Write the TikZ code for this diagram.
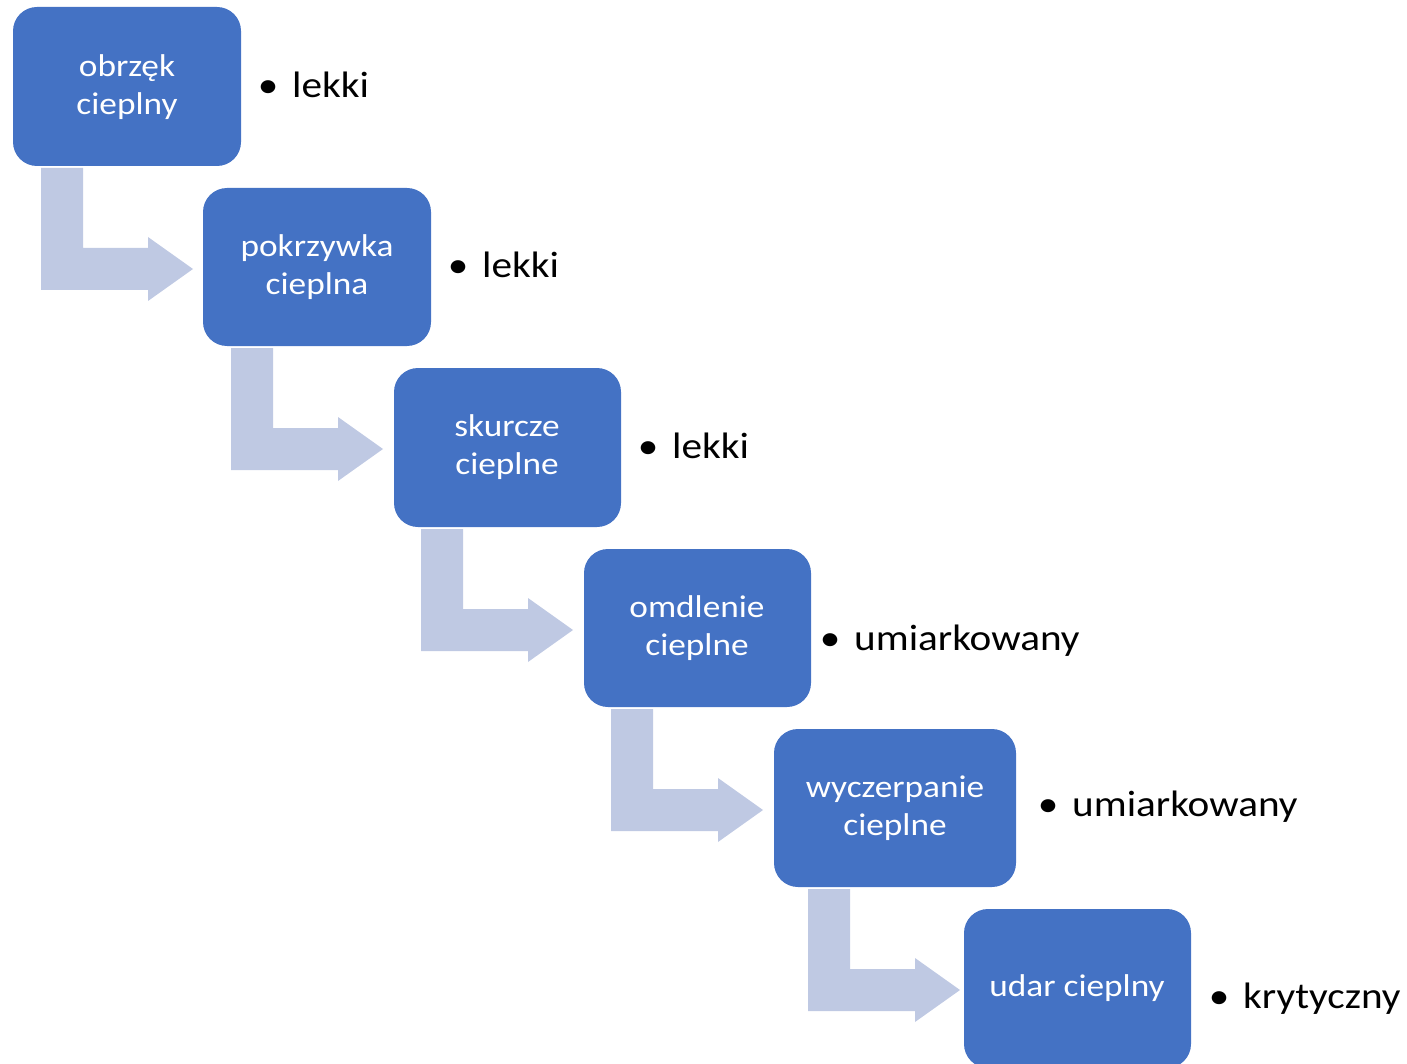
\documentclass[tikz,border=0pt]{standalone}
\usepackage{fontspec}
\newfontfamily\calfont[FakeStretch=1.12]{Carlito}
\definecolor{boxblue}{HTML}{4472C4}
\definecolor{arrowblue}{HTML}{BFC9E3}
\tikzset{
  x=1pt, y=-1pt,
  stagebox/.style={fill=boxblue, draw=none, rounded corners=24pt},
  stagetext/.style={text=white, align=center, font=\calfont\fontsize{31.5}{38}\selectfont, inner sep=0pt},
  levellabel/.style={text=black, anchor=base west, inner sep=0pt, font=\calfont\fontsize{36.8}{43}\selectfont},
  bentarrow/.style={fill=arrowblue, draw=none}
}
\newcommand{\bentarrowat}[2]{%
  \fill[bentarrow] (#1+0,#2+0) -- (#1+42,#2+0) -- (#1+42,#2+80) -- (#1+107,#2+80) -- (#1+107,#2+69)
    -- (#1+152,#2+101) -- (#1+107,#2+133) -- (#1+107,#2+122) -- (#1+0,#2+122) -- cycle;}
\begin{document}
\begin{tikzpicture}
\useasboundingbox (0,0) rectangle (1407,1064);
% boxes
\fill[stagebox] (13,7) rectangle (241,166);
\fill[stagebox] (203,188) rectangle (431,346);
\fill[stagebox] (394,368) rectangle (621,527);
\fill[stagebox] (584,549) rectangle (811,707);
\fill[stagebox] (774,729) rectangle (1016,887);
\begin{scope}
\clip (0,0) rectangle (1407,1064);
\fill[stagebox] (964,909) rectangle (1191,1068);
\end{scope}
\node[stagetext] (s1) at (127,87) {obrzęk\\cieplny};
\node[stagetext] (s2) at (317,267) {pokrzywka\\cieplna};
\node[stagetext] (s3) at (507,447) {skurcze\\cieplne};
\node[stagetext] (s4) at (697,628) {omdlenie\\cieplne};
\node[stagetext] (s5) at (895,808) {wyczerpanie\\cieplne};
\node[stagetext] (s6) at (1077,988) {udar cieplny};
% arrows
\bentarrowat{41}{168}
\bentarrowat{231}{348}
\bentarrowat{421}{529}
\bentarrowat{611}{709}
\bentarrowat{808}{889}
% labels
\node[levellabel] (l1) at (256,98) {\makebox[24pt][c]{•}\hspace{12pt}lekki};
\node[levellabel] (l2) at (446,278) {\makebox[24pt][c]{•}\hspace{12pt}lekki};
\node[levellabel] (l3) at (636,458) {\makebox[24pt][c]{•}\hspace{12pt}lekki};
\node[levellabel] (l4) at (818,650) {\makebox[24pt][c]{•}\hspace{12pt}umiarkowany};
\node[levellabel] (l5) at (1036,816) {\makebox[24pt][c]{•}\hspace{12pt}umiarkowany};
\node[levellabel] (l6) at (1207,1008) {\makebox[24pt][c]{•}\hspace{12pt}krytyczny};
\end{tikzpicture}
\end{document}
